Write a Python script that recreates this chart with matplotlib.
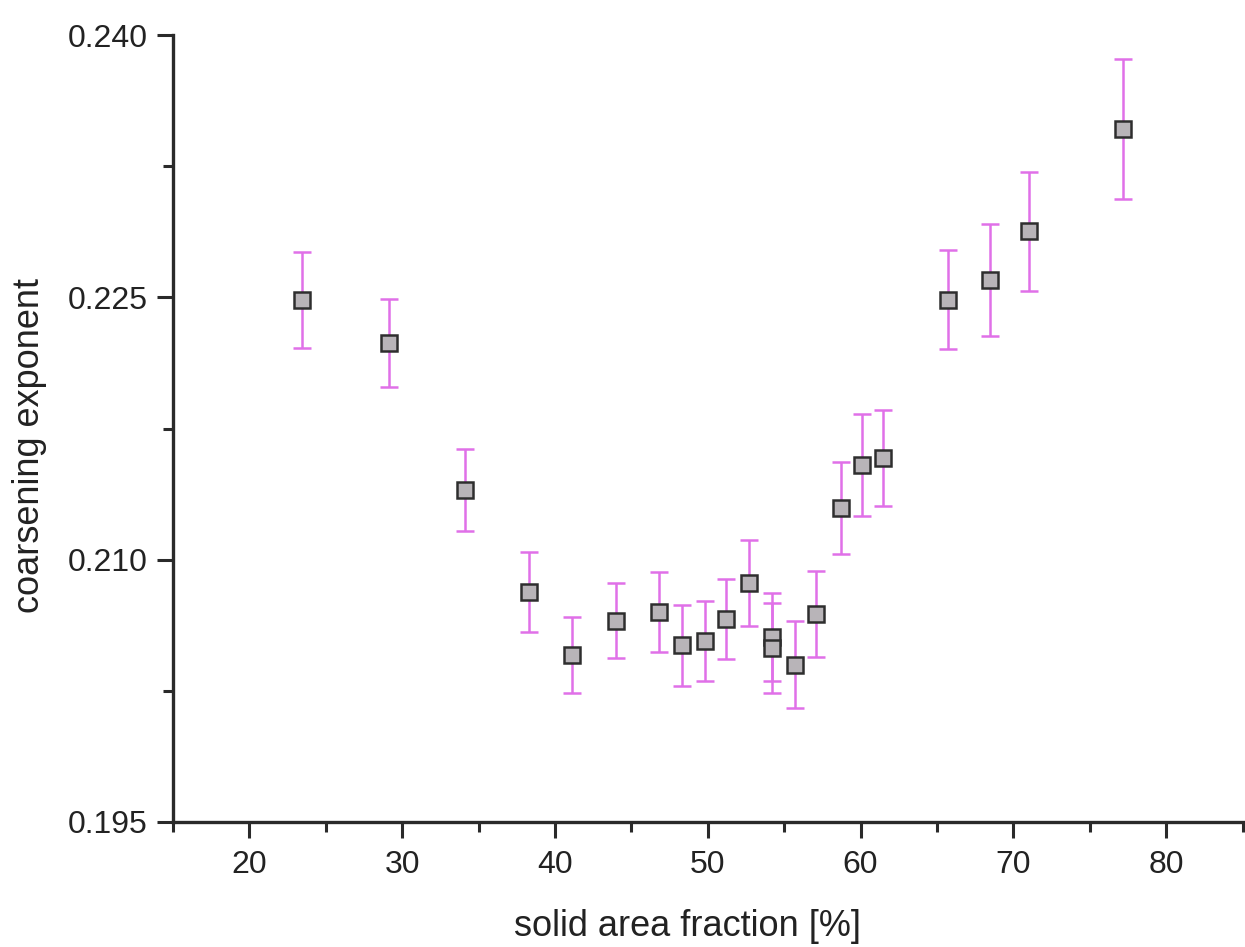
import matplotlib
matplotlib.use("Agg")
import matplotlib.pyplot as plt
from matplotlib.ticker import MultipleLocator, FormatStrFormatter

plt.rcParams['font.family'] = ['Liberation Sans', 'DejaVu Sans']

solid_fraction = [23.46, 29.15, 34.1, 38.3, 41.1, 44.0, 46.8, 48.3, 49.8, 51.2,
                  52.7, 54.2, 54.2, 55.7, 57.1, 58.7, 60.1, 61.5, 65.75, 68.5,
                  71.0, 77.2]
coarsening_exp = [0.22485, 0.2224, 0.2140, 0.20815, 0.20455, 0.2065, 0.2070,
                  0.2051, 0.20535, 0.2066, 0.20867, 0.20558, 0.20495, 0.2040,
                  0.2069, 0.21295, 0.21541, 0.21581, 0.22485, 0.2260, 0.22879,
                  0.23463]
error = [0.00274, 0.0025, 0.00234, 0.0023, 0.0022, 0.00215, 0.0023, 0.0023,
         0.0023, 0.0023, 0.00246, 0.0025, 0.0026, 0.0025, 0.00246, 0.00263,
         0.00292, 0.00274, 0.00283, 0.0032, 0.0034, 0.0040]

fig = plt.figure(figsize=(12.45, 9.47), dpi=100)
ax = fig.add_axes([0.139, 0.132, 0.859, 0.831])

ax.errorbar(solid_fraction, coarsening_exp, yerr=error, fmt='s',
            ms=11, mfc='#b8b4b8', mec='#2e2e2e', mew=1.8,
            ecolor='#e070e8', elinewidth=1.8, capsize=6.5, capthick=1.8,
            zorder=3)

ax.set_xlim(15, 85)
ax.set_ylim(0.195, 0.240)
ax.xaxis.set_major_locator(MultipleLocator(10))
ax.xaxis.set_minor_locator(MultipleLocator(5))
ax.yaxis.set_major_locator(MultipleLocator(0.015))
ax.yaxis.set_minor_locator(MultipleLocator(0.0075))
ax.yaxis.set_major_formatter(FormatStrFormatter('%.3f'))

for s in ['top', 'right']:
    ax.spines[s].set_visible(False)
for s in ['left', 'bottom']:
    ax.spines[s].set_linewidth(2.4)
    ax.spines[s].set_color('#2a2a2a')

ax.tick_params(which='major', direction='out', length=11.5, width=2.2, color='#2a2a2a',
               labelsize=23, labelcolor='#222222')
ax.tick_params(axis='y', which='major', pad=7)
ax.tick_params(axis='x', which='major', pad=9)
ax.tick_params(which='minor', direction='out', length=7, width=2.2, color='#2a2a2a')

ax.set_xlabel('solid area fraction [%]', fontsize=26, color='#222222')
ax.set_ylabel('coarsening exponent', fontsize=26, color='#222222')
ax.xaxis.set_label_coords(0.481, -0.110)
ax.yaxis.set_label_coords(-0.118, 0.479)

fig.savefig('out.png', dpi=100)
